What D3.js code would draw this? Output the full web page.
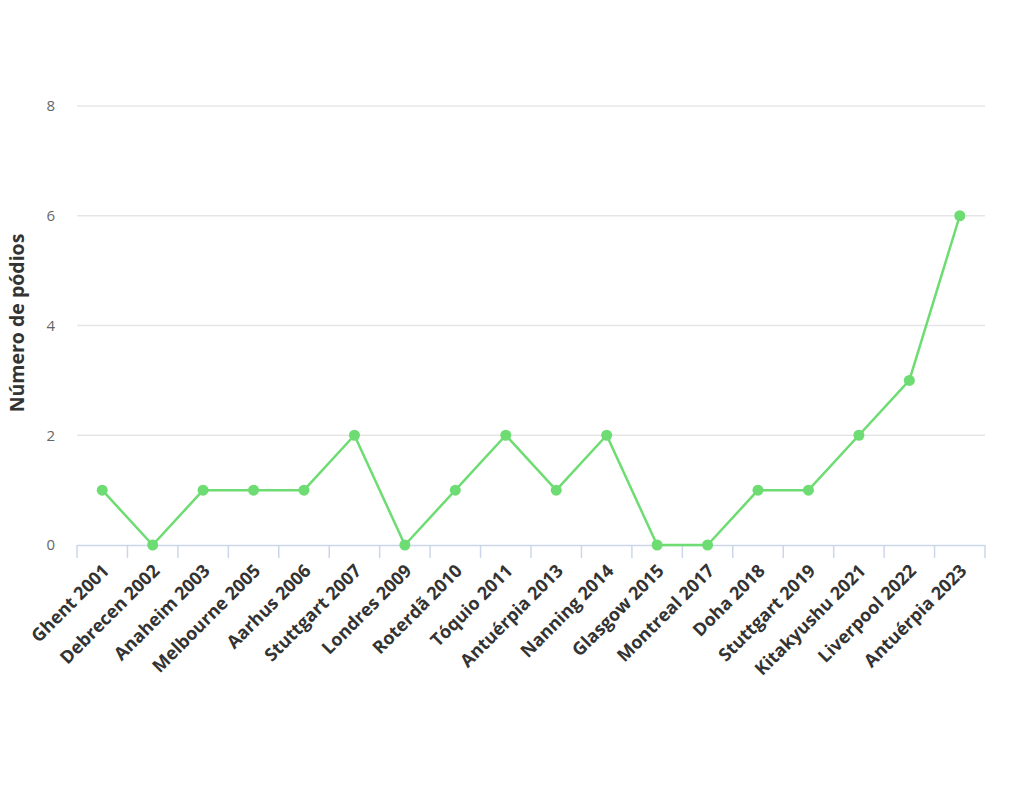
<!DOCTYPE html>
<html><head><meta charset="utf-8">
<script src="https://cdn.jsdelivr.net/npm/d3@7"></script>
<style>body{margin:0;background:#fff;} text{font-family:"Open Sans",sans-serif;}</style>
</head><body>
<svg id="c" width="1024" height="785"></svg>
<script>
const categories = ["Ghent 2001","Debrecen 2002","Anaheim 2003","Melbourne 2005","Aarhus 2006","Stuttgart 2007","Londres 2009","Roterdã 2010","Tóquio 2011","Antuérpia 2013","Nanning 2014","Glasgow 2015","Montreal 2017","Doha 2018","Stuttgart 2019","Kitakyushu 2021","Liverpool 2022","Antuérpia 2023"];
const values = [1,0,1,1,1,2,0,1,2,1,2,0,0,1,1,2,3,6];
const yTicks = [0,2,4,6,8];
const yTitle = "Número de pódios";

(function(){
const svg = d3.select("#c");
const pl = 77, pr = 985, pt = 106, pb = 545;
const x = d3.scaleBand().domain(categories).range([pl, pr]);
const y = d3.scaleLinear().domain([0, 8]).range([pb, pt]);

// grid
svg.append("g").selectAll("line").data(yTicks.filter(d=>d>0)).join("line")
  .attr("x1", pl).attr("x2", pr).attr("y1", d=>y(d)).attr("y2", d=>y(d))
  .attr("stroke", "#e6e6e6").attr("stroke-width", 1.3);

// y labels
svg.append("g").selectAll("text").data(yTicks).join("text")
  .attr("x", 55).attr("y", d=>y(d)).attr("dy", "0.35em")
  .attr("text-anchor", "end").attr("fill", "#666").attr("font-size", 15)
  .text(d=>d);

// y title
svg.append("text").attr("transform", `translate(24,323) rotate(-90)`)
  .attr("text-anchor", "middle").attr("font-size", 19.5).attr("font-weight", "bold")
  .attr("fill", "#333").text(yTitle);

// x axis
const xa = svg.append("g");
xa.append("line").attr("x1", pl).attr("x2", pr).attr("y1", pb+0.5).attr("y2", pb+0.5)
  .attr("stroke", "#ccd6eb").attr("stroke-width", 1.5);
const bounds = categories.map(c=>x(c)).concat([pr]);
xa.selectAll("line.t").data(bounds).join("line").attr("class","t")
  .attr("x1", d=>d).attr("x2", d=>d).attr("y1", pb).attr("y2", pb+13)
  .attr("stroke", "#ccd6eb").attr("stroke-width", 1.5);
xa.selectAll("text").data(categories).join("text")
  .attr("transform", d=>`translate(${x(d)+x.bandwidth()/2+8},${pb+27}) rotate(-45)`)
  .attr("text-anchor", "end").attr("font-size", 18).attr("font-weight", "bold")
  .attr("fill", "#333").text(d=>d);

// line
const cx = d => x(d)+x.bandwidth()/2;
const line = d3.line().x((d,i)=>cx(categories[i])).y(d=>y(d));
svg.append("path").datum(values).attr("d", line).attr("fill","none")
  .attr("stroke","#6ddc72").attr("stroke-width",2.5).attr("stroke-linejoin","round");
svg.append("g").selectAll("circle").data(values).join("circle")
  .attr("cx",(d,i)=>cx(categories[i])).attr("cy",d=>y(d)).attr("r",5.5).attr("fill","#6ddc72");
})();
</script>
</body></html>
